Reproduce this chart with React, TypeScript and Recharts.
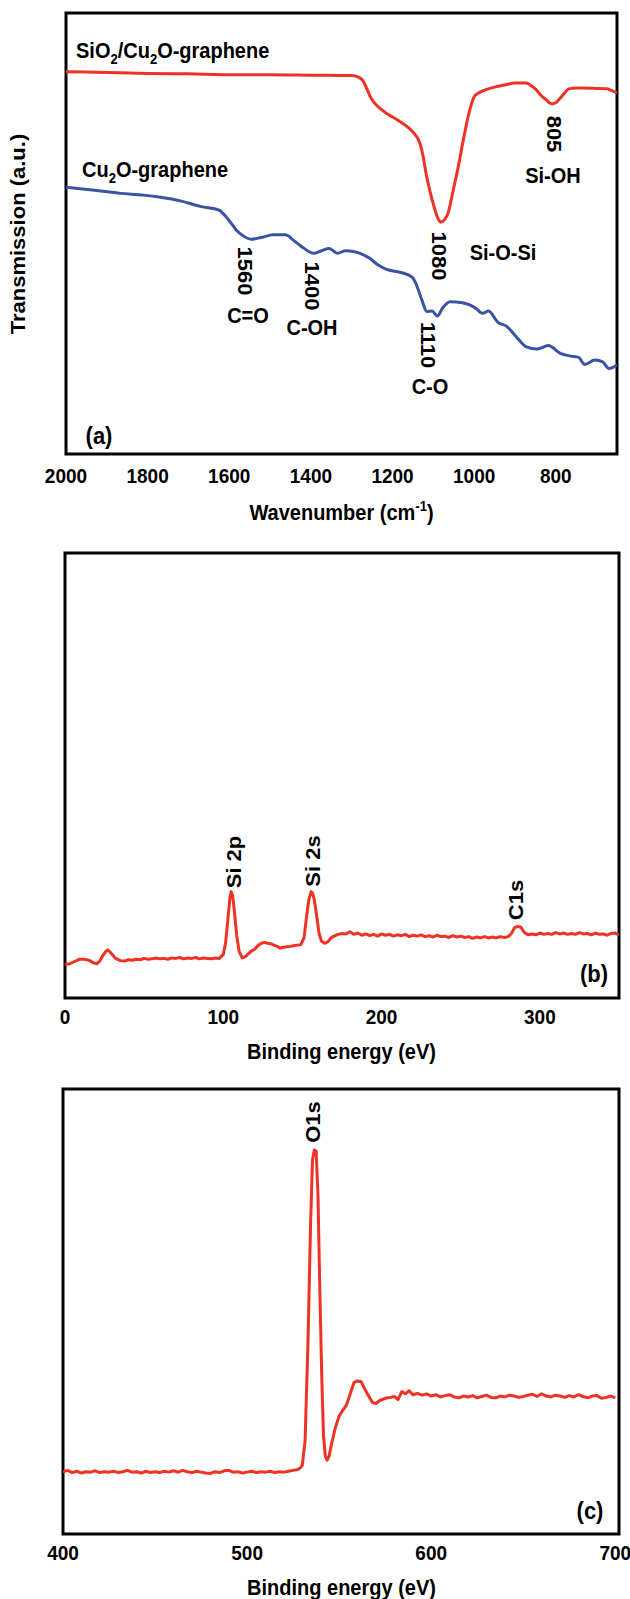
import React from "react";
import { LineChart, Line, XAxis, YAxis, ReferenceArea } from "recharts";

// ---------- Panel (a): FTIR ----------
const ftirTicks = [2000, 1800, 1600, 1400, 1200, 1000, 800];

const redWavenumber = [2000, 1900, 1800, 1700, 1600, 1500, 1400, 1300, 1285, 1272, 1262, 1252, 1236, 1210, 1187, 1165, 1148, 1133, 1125, 1118, 1108, 1098, 1088, 1081, 1072, 1064, 1052, 1039, 1027, 1015, 1005, 1000, 990, 980, 950, 920, 901, 872, 860, 847, 835, 823, 815, 808, 798, 789, 778, 768, 750, 734, 700, 675, 660, 650];
const redTransmission = [86.7, 86.5, 86.3, 86.2, 86.0, 86.0, 85.9, 85.8, 85.5, 84.6, 82.6, 80.6, 78.8, 77.0, 75.7, 74.3, 72.8, 70.5, 67.5, 63.7, 59.5, 56.0, 53.3, 52.6, 53.2, 54.6, 59.5, 65.1, 71.0, 76.4, 79.8, 81.0, 81.8, 82.3, 83.2, 83.8, 84.1, 84.1, 83.5, 82.5, 81.2, 80.3, 79.6, 79.4, 79.8, 80.7, 81.9, 82.8, 83.0, 83.0, 82.9, 82.8, 82.3, 81.9];

const blueWavenumber = [2000, 1930, 1866, 1810, 1768, 1720, 1669, 1625, 1610, 1596, 1583, 1571, 1546, 1522, 1492, 1462, 1443, 1418, 1393, 1374, 1355, 1335, 1315, 1295, 1256, 1236, 1216, 1177, 1152, 1143, 1128, 1116, 1103, 1090, 1078, 1059, 1029, 995, 980, 965, 941, 921, 897, 872, 847, 818, 789, 763, 744, 729, 704, 685, 670, 650];
const blueTransmission = [60.5, 59.8, 59.1, 58.7, 58.2, 57.4, 56.1, 55.3, 54.0, 52.4, 50.8, 49.8, 48.7, 49.1, 49.7, 49.7, 48.5, 46.7, 45.5, 46.1, 46.6, 45.5, 46.1, 45.9, 44.4, 42.9, 41.9, 41.1, 40.1, 38.7, 34.9, 32.3, 32.4, 31.3, 33.0, 34.5, 34.3, 33.0, 31.9, 32.4, 29.8, 29.0, 26.6, 24.3, 23.8, 24.6, 22.8, 22.2, 21.9, 20.3, 21.3, 20.9, 19.4, 20.2];

// ---------- Panel (b): XPS 0-350 eV ----------
const xpsBTicks = [0, 100, 200, 300];
const xpsBEnergy = [0, 3, 6, 9, 12, 15, 18, 20, 22, 24, 26, 27, 28, 30, 32, 35, 37.5, 40, 42.5, 45, 47.5, 50, 52.5, 55, 57.5, 60, 62.5, 65, 67.5, 70, 72.5, 75, 77.5, 80, 82.5, 85, 87.5, 90, 92.5, 95, 97.5, 100, 101.5, 103, 104.2, 105, 106, 107, 108.5, 110, 112, 114, 116, 118, 120, 122, 124, 126, 128, 130, 132, 134, 136, 138, 140, 142.5, 145, 147.5, 149, 151, 152.5, 154, 155.5, 156.5, 157.5, 159, 160.5, 162, 164, 166, 168, 170, 172.5, 175, 177.5, 180, 182.5, 185, 187.5, 190, 192.5, 195, 197.5, 200, 202.5, 205, 207.5, 210, 212.5, 215, 217.5, 220, 222.5, 225, 227.5, 230, 232.5, 235, 237.5, 240, 242.5, 245, 247.5, 250, 252.5, 255, 257.5, 260, 262.5, 265, 267.5, 270, 272.5, 275, 277.5, 280, 282, 284, 286, 288, 290, 292.5, 295, 297.5, 300, 302.5, 305, 307.5, 310, 312.5, 315, 317.5, 320, 322.5, 325, 327.5, 330, 332.5, 335, 337.5, 340, 342.5, 345, 347.5, 350];
const xpsBIntensity = [7.5, 7.7, 8.2, 8.7, 8.7, 8.5, 7.9, 7.7, 8.3, 9.6, 10.6, 10.8, 10.5, 9.7, 8.9, 8.4, 8.3, 8.6, 8.5, 8.7, 8.6, 8.9, 8.7, 8.8, 9.0, 8.8, 8.9, 8.7, 9.0, 8.9, 9.1, 8.8, 9.0, 8.9, 9.1, 8.8, 9.0, 8.9, 8.8, 9.0, 8.9, 9.8, 12.5, 18.0, 22.5, 23.9, 22.8, 19.5, 14.0, 10.5, 9.0, 9.3, 10.0, 10.6, 11.0, 11.8, 12.3, 12.5, 12.3, 12.2, 11.9, 11.6, 11.2, 11.4, 11.5, 11.6, 11.8, 11.9, 12.0, 13.5, 18.0, 22.0, 23.9, 23.5, 22.0, 18.5, 14.5, 12.8, 12.3, 12.6, 13.5, 13.9, 14.3, 14.5, 14.4, 14.9, 14.3, 14.6, 14.1, 14.4, 14.0, 14.3, 13.9, 14.4, 14.1, 14.3, 13.9, 14.2, 14.0, 14.3, 13.8, 14.1, 13.9, 14.2, 13.8, 14.0, 13.7, 14.1, 13.8, 13.9, 13.6, 14.0, 13.7, 13.9, 13.6, 13.8, 13.4, 13.7, 13.5, 13.8, 13.5, 13.7, 13.5, 13.8, 13.6, 13.8, 14.5, 15.8, 16.1, 15.9, 14.8, 14.2, 14.4, 14.2, 14.6, 14.3, 14.5, 14.3, 14.7, 14.4, 14.6, 14.3, 14.5, 14.3, 14.7, 14.4, 14.5, 14.2, 14.6, 14.3, 14.4, 14.1, 14.5, 14.6, 14.2];

// ---------- Panel (c): XPS 400-700 eV ----------
const xpsCTicks = [400, 500, 600, 700];
const xpsCEnergy = [400, 402.5, 405, 407.5, 410, 412.5, 415, 417.5, 420, 422.5, 425, 427.5, 430, 432.5, 435, 437.5, 440, 442.5, 445, 447.5, 450, 452.5, 455, 457.5, 460, 462.5, 465, 467.5, 470, 472.5, 475, 477.5, 480, 482.5, 485, 487.5, 490, 492.5, 495, 497.5, 500, 502.5, 505, 507.5, 510, 512.5, 515, 517.5, 520, 522.5, 525, 527.5, 529, 530, 531.5, 533, 534.5, 535.5, 536.5, 537.5, 538.5, 539.5, 540.5, 541.5, 542.5, 543.5, 544.5, 546, 548, 550, 552, 554, 556, 558, 560, 562, 564, 566, 568, 570, 572, 575, 578, 580, 582, 584, 586, 588, 590, 592.5, 595, 597.5, 600, 602.5, 605, 607.5, 610, 612.5, 615, 617.5, 620, 622.5, 625, 627.5, 630, 632.5, 635, 637.5, 640, 642.5, 645, 647.5, 650, 652.5, 655, 657.5, 660, 662.5, 665, 667.5, 670, 672.5, 675, 677.5, 680, 682.5, 685, 687.5, 690, 692.5, 695, 697.5, 700];
const xpsCIntensity = [14.0, 14.3, 13.8, 14.1, 13.7, 14.0, 13.9, 14.2, 13.8, 14.0, 13.9, 14.1, 13.8, 14.0, 14.3, 13.9, 14.0, 13.7, 14.1, 13.8, 14.0, 13.8, 14.1, 13.9, 14.2, 13.9, 14.3, 14.0, 13.8, 14.1, 13.9, 13.7, 13.6, 14.0, 13.8, 14.2, 14.3, 13.9, 14.0, 13.7, 13.9, 14.1, 13.8, 14.0, 13.9, 14.1, 13.8, 14.0, 13.9, 14.1, 14.3, 14.5, 14.9, 15.5, 21.0, 42.0, 70.0, 84.0, 86.3, 86.0, 76.0, 55.0, 36.0, 22.0, 17.5, 16.6, 17.5, 20.5, 24.0, 26.5, 27.8, 29.0, 31.5, 34.0, 34.4, 34.2, 32.5, 31.0, 29.6, 29.3, 30.0, 30.5, 30.7, 30.9, 30.2, 32.0, 31.5, 32.2, 31.3, 31.6, 31.2, 31.5, 31.0, 31.3, 30.8, 31.1, 31.3, 30.8, 30.6, 31.0, 30.8, 31.1, 30.6, 30.9, 31.2, 30.7, 30.6, 31.0, 30.8, 31.2, 31.0, 30.7, 30.9, 31.2, 31.4, 30.9, 31.5, 31.0, 30.8, 31.2, 31.0, 30.7, 31.1, 30.8, 31.3, 30.9, 30.6, 31.0, 31.1, 30.5, 30.7, 31.0, 30.6];

const zip = (xs: number[], ys: number[]) => xs.map((x, i) => ({ x, y: ys[i] }));

const FONT = "'Liberation Sans', Arial, Helvetica, sans-serif";
const RED = "#ee3326";
const BLUE = "#3a53a3";
const STRETCH = 1.1;

type Series = { data: { x: number; y: number }[]; color: string; curve: "monotone" | "linear" };

const labelStyle: React.CSSProperties = { fontFamily: FONT, fontWeight: 700, fill: "#000" };

function makeTick(offset: number) {
  return (p: any) => (
    <text
      transform={`translate(${p.x},${p.y + offset}) scale(1,${STRETCH})`}
      textAnchor="middle"
      fontSize={19}
      style={labelStyle}
    >
      {p.payload.value}
    </text>
  );
}

function Panel(props: {
  top: number;
  height: number;
  margin: { top: number; right: number; bottom: number; left: number };
  domain: [number, number];
  ticks: number[];
  reversed?: boolean;
  tickOffset: number;
  series: Series[];
}) {
  const { top, height, margin, domain, ticks, reversed, tickOffset, series } = props;
  return (
    <div style={{ position: "absolute", left: 0, top }}>
      <LineChart width={630} height={height} margin={margin}>
        <XAxis
          type="number"
          dataKey="x"
          domain={domain}
          ticks={ticks}
          reversed={reversed}
          allowDataOverflow
          interval={0}
          axisLine={false}
          tickLine={false}
          tickSize={0}
          tickMargin={0}
          height={30}
          tick={makeTick(tickOffset)}
        />
        <YAxis type="number" domain={[0, 100]} hide allowDataOverflow />
        <ReferenceArea
          x1={domain[0]}
          x2={domain[1]}
          y1={0}
          y2={100}
          fill="none"
          fillOpacity={0}
          stroke="#000"
          strokeWidth={3}
          ifOverflow="visible"
        />
        {series.map((s, i) => (
          <Line
            key={i}
            data={s.data}
            dataKey="y"
            type={s.curve}
            stroke={s.color}
            strokeWidth={3}
            strokeLinejoin="round"
            dot={false}
            activeDot={false}
            isAnimationActive={false}
          />
        ))}
      </LineChart>
    </div>
  );
}

function Rot({ x, y, angle, children, size = 20 }: { x: number; y: number; angle: number; children: React.ReactNode; size?: number }) {
  return (
    <text
      transform={`translate(${x},${y}) scale(1,${STRETCH}) rotate(${angle})`}
      textAnchor="middle"
      dominantBaseline="central"
      fontSize={size}
      style={labelStyle}
    >
      {children}
    </text>
  );
}

function Lbl({ x, y, children, size = 20, anchor = "middle" }: { x: number; y: number; children: React.ReactNode; size?: number; anchor?: "start" | "middle" | "end" }) {
  return (
    <text
      transform={`translate(${x},${y}) scale(1,${STRETCH})`}
      textAnchor={anchor}
      dominantBaseline="central"
      fontSize={size}
      style={labelStyle}
    >
      {children}
    </text>
  );
}

function Base({ x, y, children, size = 20, anchor = "start" }: { x: number; y: number; children: React.ReactNode; size?: number; anchor?: "start" | "middle" | "end" }) {
  return (
    <text transform={`translate(${x},${y}) scale(1,${STRETCH})`} textAnchor={anchor} fontSize={size} style={labelStyle}>
      {children}
    </text>
  );
}

export default function App() {
  return (
    <div style={{ position: "absolute", left: 0, top: 0, width: 630, height: 1599, background: "#fff", overflow: "hidden" }}>
      <Panel
        top={0}
        height={530}
        margin={{ top: 13, right: 13, bottom: 46, left: 66 }}
        domain={[650, 2000]}
        ticks={ftirTicks}
        reversed
        tickOffset={29}
        series={[
          { data: zip(redWavenumber, redTransmission), color: RED, curve: "monotone" },
          { data: zip(blueWavenumber, blueTransmission), color: BLUE, curve: "monotone" },
        ]}
      />
      <Panel
        top={530}
        height={540}
        margin={{ top: 23, right: 11, bottom: 42, left: 65 }}
        domain={[0, 350]}
        ticks={xpsBTicks}
        tickOffset={26}
        series={[{ data: zip(xpsBEnergy, xpsBIntensity), color: RED, curve: "linear" }]}
      />
      <Panel
        top={1070}
        height={529}
        margin={{ top: 19, right: 11, bottom: 35, left: 63 }}
        domain={[400, 702]}
        ticks={xpsCTicks}
        tickOffset={26}
        series={[{ data: zip(xpsCEnergy, xpsCIntensity), color: RED, curve: "linear" }]}
      />
      <svg width={630} height={1599} style={{ position: "absolute", left: 0, top: 0, pointerEvents: "none" }}>
        {/* Panel (a) */}
        <Base x={76} y={58}>
          SiO<tspan fontSize={13} dy={5}>2</tspan>
          <tspan dy={-5}>/Cu</tspan>
          <tspan fontSize={13} dy={5}>2</tspan>
          <tspan dy={-5}>O-graphene</tspan>
        </Base>
        <Base x={82} y={177}>
          Cu<tspan fontSize={13} dy={5}>2</tspan>
          <tspan dy={-5}>O-graphene</tspan>
        </Base>
        <Rot x={554} y={134} angle={90}>805</Rot>
        <Lbl x={553} y={175}>Si-OH</Lbl>
        <Rot x={439} y={256} angle={90}>1080</Rot>
        <Lbl x={503} y={252}>Si-O-Si</Lbl>
        <Rot x={245} y={271} angle={90}>1560</Rot>
        <Lbl x={248} y={315}>C=O</Lbl>
        <Rot x={312} y={286} angle={90}>1400</Rot>
        <Lbl x={312} y={327}>C-OH</Lbl>
        <Rot x={428} y={345} angle={90}>1110</Rot>
        <Lbl x={430} y={386}>C-O</Lbl>
        <Lbl x={99} y={436} size={22}>(a)</Lbl>
        <Rot x={18} y={234} angle={-90}>Transmission (a.u.)</Rot>
        <Base x={341.5} y={520} anchor="middle">
          Wavenumber (cm<tspan fontSize={13} dy={-8}>-1</tspan>
          <tspan dy={8}>)</tspan>
        </Base>

        {/* Panel (b) */}
        <Rot x={234} y={862} angle={-90}>Si 2p</Rot>
        <Rot x={313} y={861} angle={-90}>Si 2s</Rot>
        <Rot x={516} y={900} angle={-90}>C1s</Rot>
        <Lbl x={594} y={974} size={22}>(b)</Lbl>
        <Base x={341.5} y={1059} anchor="middle">Binding energy (eV)</Base>

        {/* Panel (c) */}
        <Rot x={313} y={1122} angle={-90}>O1s</Rot>
        <Lbl x={590} y={1511} size={22}>(c)</Lbl>
        <Base x={341.5} y={1595} anchor="middle">Binding energy (eV)</Base>
      </svg>
    </div>
  );
}
